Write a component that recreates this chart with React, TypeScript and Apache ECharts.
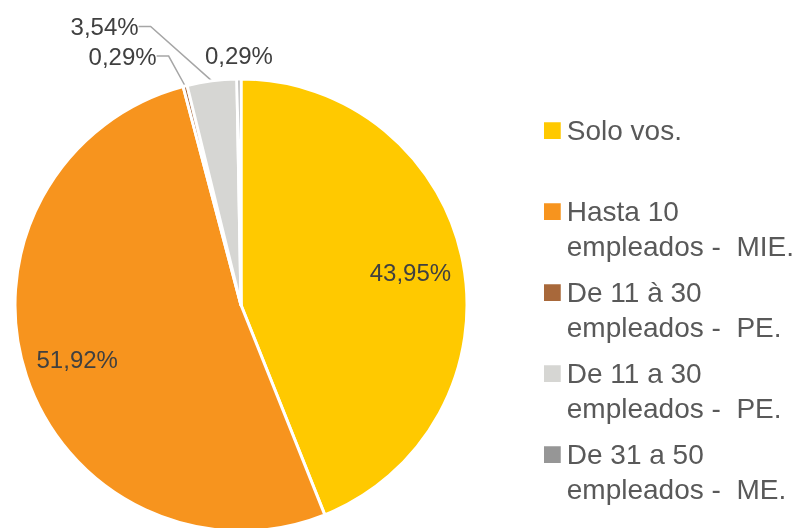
import { useEffect, useRef } from 'react';
import * as echarts from 'echarts';

const categories = [
  'Solo vos.',
  'Hasta 10 empleados - MIE.',
  'De 11 à 30 empleados - PE.',
  'De 11 a 30 empleados - PE.',
  'De 31 a 50 empleados - ME.',
];
const legendTexts = [
  ' \nSolo vos.\n ',
  ' \nHasta 10\nempleados -  MIE.',
  ' \nDe 11 à 30\nempleados -  PE.',
  ' \nDe 11 a 30\nempleados -  PE.',
  ' \nDe 31 a 50\nempleados -  ME.',
];
const values = [43.95, 51.92, 0.29, 3.54, 0.29];
const valueLabels = ['43,95%', '51,92%', '0,29%', '3,54%', '0,29%'];
const colors = ['#FFC900', '#F7941E', '#A8683A', '#D6D6D3', '#969696'];

const FONT = "'Liberation Sans', Arial, sans-serif";

export default function App() {
  const ref = useRef<HTMLDivElement>(null);
  useEffect(() => {
    if (!ref.current) return;
    const chart = echarts.init(ref.current, null, { renderer: 'svg' });
    const center = [241, 305];
    chart.setOption({
      animation: false,
      legend: {
        orient: 'vertical',
        left: 542,
        top: 78,
        padding: 0,
        itemWidth: 18.75,
        itemHeight: 18.75,
        itemGap: -24,
        icon: 'rect',
        data: categories,
        selectedMode: false,
        formatter: (name: string) => legendTexts[categories.indexOf(name)],
        textStyle: {
          fontFamily: FONT,
          fontSize: 28,
          lineHeight: 35,
          color: '#595959',
          padding: [0, 0, 0, 0],
        },
      },
      series: [
        {
          type: 'pie',
          center,
          radius: [0, 226],
          startAngle: 90,
          clockwise: true,
          avoidLabelOverlap: false,
          silent: true,
          itemStyle: { borderColor: '#ffffff', borderWidth: 3 },
          label: {
            position: 'outside',
            fontFamily: FONT,
            fontSize: 24,
            color: '#404040',
            formatter: (p: any) => valueLabels[p.dataIndex],
          },
          labelLine: {
            lineStyle: { color: '#A6A6A6', width: 1.5 },
            smooth: false,
          },
          labelLayout: (p: any) => {
            if (p.dataIndex === 4) {
              return {
                x: p.rect.x + p.rect.width / 2,
                y: p.rect.y - 22,
                align: 'center',
                verticalAlign: 'middle',
              };
            }
            if (p.dataIndex === 3) {
              return {
                x: p.rect.x - 47,
                y: p.rect.y - 51,
                align: 'right',
                verticalAlign: 'middle',
              };
            }
            if (p.dataIndex === 2) {
              return {
                x: p.rect.x - 25,
                y: p.rect.y - 28,
                align: 'right',
                verticalAlign: 'middle',
              };
            }
            return {};
          },
          data: categories.map((name, i) => ({
            name,
            value: values[i],
            itemStyle: { color: colors[i] },
            label:
              i === 2 || i === 3
                ? { show: true, padding: [0, 0, 12, 0], backgroundColor: 'transparent' }
                : { show: i >= 2 },
            labelLine: {
              show: i === 2 || i === 3,
              length: 20,
              length2: 12,
            },
          })),
        },
        {
          type: 'pie',
          center,
          radius: [113, 226],
          startAngle: 90,
          clockwise: true,
          silent: true,
          itemStyle: { color: 'rgba(0,0,0,0)', borderWidth: 0 },
          label: {
            position: 'inside',
            fontFamily: FONT,
            fontSize: 24,
            color: '#404040',
            formatter: (p: any) => valueLabels[p.dataIndex],
          },
          labelLine: { show: false },
          data: categories.map((name, i) => ({
            name,
            value: values[i],
            label: { show: i < 2 },
          })),
        },
      ],
    });
    return () => chart.dispose();
  }, []);
  return (
    <div
      ref={ref}
      style={{ position: 'fixed', left: 0, top: 0, width: 799, height: 528 }}
    />
  );
}
